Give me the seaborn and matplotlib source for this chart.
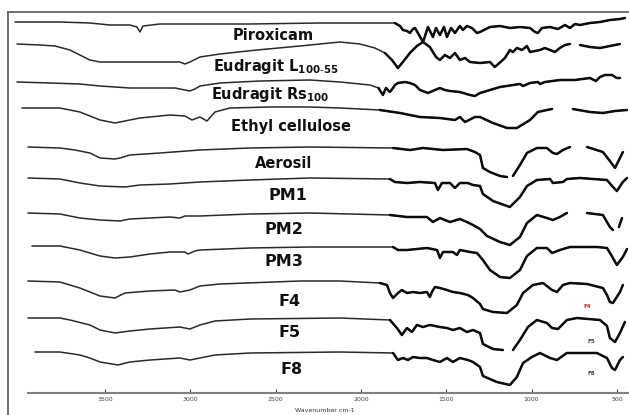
import numpy as np
import pandas as pd
import matplotlib
matplotlib.use('Agg')
import matplotlib.pyplot as plt
import seaborn as sns

sns.set_theme(style='white')
plt.rcParams['font.family'] = ['DejaVu Sans']

GAP = None

# traces: (wavenumber cm-1, vertical position of the stacked trace)
piroxicam = [(4027, 22), (3764, 22), (3588, 23), (3471, 25), (3354, 25), (3312, 27), (3295, 32), (3277, 26),
             (3178, 24), (2650, 24), (2240, 23), (1801, 23), (1771, 26), (1754, 30), (1730, 31), (1713, 33),
             (1695, 29), (1683, 28), (1666, 33), (1636, 42), (1613, 30), (1607, 27), (1578, 37), (1560, 28),
             (1537, 35), (1513, 27), (1496, 37), (1472, 28), (1449, 33), (1420, 26), (1402, 30), (1379, 26),
             (1349, 28), (1320, 33), (1302, 32), (1244, 27), (1185, 26), (1127, 28), (1068, 27), (1009, 28),
             (980, 32), (963, 33), (939, 28), (892, 27), (845, 29), (804, 25), (775, 28), (746, 24),
             (716, 25), (658, 23), (599, 22), (541, 20), (482, 19), (453, 18)]

eudragit_l = [(4015, 44), (3881, 45), (3793, 46), (3705, 50), (3647, 55), (3588, 60), (3529, 62), (3354, 62),
              (3119, 62), (3061, 62), (3031, 64), (3002, 62), (2943, 57), (2826, 54), (2609, 50), (2357, 46),
              (2240, 44), (2123, 42), (2006, 44), (1918, 48), (1859, 53), (1818, 60), (1783, 68), (1754, 62),
              (1713, 53), (1672, 46), (1636, 42), (1596, 47), (1560, 57), (1537, 60), (1508, 55), (1478, 58),
              (1449, 53), (1420, 60), (1390, 58), (1361, 62), (1302, 63), (1244, 62), (1215, 67), (1156, 58),
              (1127, 50), (1109, 52), (1086, 48), (1056, 50), (1027, 46), (1009, 52), (951, 50), (922, 48),
              (892, 50), (863, 52), (834, 48), (804, 45), (775, 44), GAP, (716, 45), (658, 47), (599, 48),
              (541, 46), (482, 44)]

eudragit_rs = [(4015, 82), (3822, 83), (3647, 84), (3529, 86), (3354, 88), (3090, 88), (3031, 90), (3002, 91),
               (2973, 89), (2943, 86), (2826, 83), (2592, 81), (2299, 80), (2123, 82), (1947, 85), (1897, 88),
               (1871, 95), (1853, 88), (1830, 92), (1812, 88), (1801, 85), (1783, 83), (1742, 82), (1713, 83),
               (1683, 85), (1654, 90), (1607, 93), (1566, 90), (1537, 88), (1508, 90), (1478, 91), (1420, 92),
               (1361, 95), (1332, 96), (1302, 93), (1185, 87), (1068, 84), (1050, 86), (1009, 83), (963, 82),
               (951, 84), (922, 82), (834, 80), (746, 80), (658, 78), (623, 81), (599, 77), (570, 75),
               (529, 75), (500, 78), (482, 78)]

ethyl_cellulose = [(3986, 108), (3764, 108), (3647, 112), (3529, 120), (3441, 123), (3383, 121), (3295, 118),
                   (3119, 115), (3031, 116), (2990, 120), (2943, 117), (2902, 121), (2855, 112), (2768, 108),
                   (2533, 107), (2299, 107), (2123, 108), (1889, 110), (1771, 113), (1654, 117), (1537, 118),
                   (1449, 120), (1420, 117), (1390, 122), (1332, 117), (1302, 117), (1226, 123), (1144, 128),
                   (1086, 128), (1009, 120), (963, 112), (910, 110), (880, 109), GAP, (758, 109), (658, 112),
                   (582, 113), (511, 111), (441, 110)]

aerosil = [(3951, 147), (3764, 148), (3676, 150), (3588, 153), (3529, 158), (3441, 159), (3412, 158), (3354, 155),
           (3178, 153), (2943, 150), (2650, 148), (2299, 147), (1812, 148), (1713, 150), (1636, 148), (1519, 150),
           (1379, 149), (1332, 152), (1302, 155), (1285, 168), (1244, 172), (1185, 176), (1144, 177), GAP,
           (1109, 176), (1068, 165), (1027, 153), (969, 148), (910, 148), (875, 153), (851, 154), (816, 150),
           (775, 147), GAP, (675, 147), (582, 152), (541, 161), (511, 168), (482, 158), (465, 152)]

pm1 = [(3951, 178), (3764, 179), (3647, 183), (3529, 186), (3383, 187), (3295, 185), (3119, 184), (2943, 182),
       (2650, 180), (2299, 178), (1830, 179), (1801, 182), (1730, 183), (1654, 182), (1566, 183), (1549, 190),
       (1525, 183), (1478, 183), (1449, 188), (1420, 183), (1373, 183), (1343, 185), (1302, 186), (1285, 194),
       (1226, 201), (1127, 207), (1068, 197), (1027, 186), (969, 180), (892, 179), (875, 183), (816, 182),
       (793, 179), (716, 178), (558, 180), (523, 187), (500, 191), (465, 182), (441, 178)]

pm2 = [(3951, 213), (3764, 214), (3647, 218), (3529, 220), (3412, 221), (3354, 219), (3119, 217), (3061, 218),
       (3031, 216), (2943, 216), (2650, 214), (2299, 213), (1830, 215), (1730, 217), (1613, 217), (1578, 222),
       (1537, 218), (1478, 222), (1420, 219), (1379, 222), (1343, 225), (1302, 229), (1261, 236), (1185, 242),
       (1127, 245), (1068, 237), (1027, 223), (969, 215), (910, 218), (875, 220), (834, 217), (793, 213), GAP,
       (675, 213), (582, 215), (541, 227), (523, 230), GAP, (488, 227), (470, 218)]

pm3 = [(3928, 246), (3764, 246), (3647, 250), (3529, 256), (3441, 258), (3354, 257), (3236, 254), (3119, 252),
       (3031, 252), (3014, 254), (2973, 251), (2943, 250), (2650, 248), (2299, 247), (1812, 247), (1783, 250),
       (1730, 250), (1613, 248), (1554, 250), (1537, 258), (1519, 252), (1461, 252), (1437, 255), (1420, 250),
       (1361, 252), (1320, 253), (1285, 260), (1244, 270), (1185, 277), (1127, 278), (1068, 270), (1027, 256),
       (969, 248), (910, 248), (880, 253), (834, 250), (775, 247), (617, 247), (558, 248), (523, 258),
       (500, 265), (465, 257), (441, 249)]

f4 = [(3951, 281), (3764, 282), (3705, 285), (3647, 288), (3529, 296), (3441, 298), (3383, 293), (3236, 291),
      (3090, 290), (3061, 292), (3002, 290), (2943, 286), (2826, 284), (2357, 281), (2123, 281), (1889, 283),
      (1847, 285), (1830, 293), (1812, 298), (1783, 293), (1760, 290), (1730, 293), (1695, 292), (1654, 293),
      (1613, 292), (1596, 297), (1584, 292), (1566, 287), (1537, 288), (1496, 290), (1461, 292), (1420, 293),
      (1373, 295), (1343, 298), (1302, 304), (1285, 309), (1226, 312), (1144, 313), (1086, 305), (1050, 293),
      (992, 285), (933, 283), (880, 290), (851, 292), (816, 285), (775, 283), (675, 284), (582, 288),
      (558, 295), (541, 302), (523, 303), (482, 292), (465, 285)]

f5 = [(3951, 318), (3764, 318), (3705, 320), (3588, 325), (3529, 330), (3441, 333), (3354, 331), (3236, 329),
      (3061, 327), (3002, 329), (2943, 325), (2855, 321), (2650, 319), (2123, 318), (1830, 320), (1789, 328),
      (1760, 335), (1730, 328), (1701, 332), (1672, 325), (1636, 327), (1596, 325), (1537, 327), (1496, 328),
      (1461, 330), (1420, 328), (1379, 332), (1343, 330), (1302, 333), (1285, 344), (1226, 349), (1168, 350), GAP,
      (1109, 350), (1068, 340), (1021, 327), (969, 320), (910, 323), (880, 328), (845, 329), (793, 320),
      (734, 318), (599, 320), (558, 326), (541, 338), (511, 342), (482, 333), (453, 322)]

f8 = [(3910, 352), (3764, 352), (3647, 355), (3588, 358), (3529, 362), (3424, 365), (3354, 362), (3236, 360),
      (3061, 358), (3002, 360), (2943, 358), (2855, 355), (2650, 353), (2123, 352), (1812, 353), (1783, 360),
      (1754, 358), (1724, 360), (1695, 357), (1654, 358), (1613, 358), (1578, 360), (1537, 362), (1496, 358),
      (1461, 362), (1420, 358), (1373, 360), (1343, 362), (1302, 367), (1285, 376), (1203, 382), (1127, 385),
      (1086, 377), (1050, 363), (998, 357), (951, 353), (892, 358), (851, 360), (793, 353), (734, 353),
      (617, 353), (558, 358), (529, 368), (511, 370), (482, 360), (465, 357)]

spectra = {'Piroxicam': piroxicam, 'Eudragit L100-55': eudragit_l, 'Eudragit RS100': eudragit_rs,
           'Ethyl cellulose': ethyl_cellulose, 'Aerosil': aerosil, 'PM1': pm1, 'PM2': pm2, 'PM3': pm3,
           'F4': f4, 'F5': f5, 'F8': f8}

xticks = [3500, 3000, 2500, 2000, 1500, 1000, 500]

rows = []
for name, pts in spectra.items():
    seg = 0
    for p in pts:
        if p is None:
            seg += 1
            continue
        rows.append({'sample': name, 'trace': f'{name}-{seg}', 'wn': p[0], 'y': p[1]})
df = pd.DataFrame(rows)
# the fingerprint part of the scan is printed heavier
heavy = df[df['wn'] <= 1900]

W, H = 629, 415
def rect(x0, y0, x1, y1):
    return [x0 / W, 1 - y1 / H, (x1 - x0) / W, (y1 - y0) / H]

fig = plt.figure(figsize=(W / 100, H / 100), dpi=100)

frame = fig.add_axes(rect(8, 12, 629, 415))
frame.set_facecolor('none')
frame.set_xticks([])
frame.set_yticks([])
for s in ['right', 'bottom']:
    frame.spines[s].set_visible(False)
for s in ['left', 'top']:
    frame.spines[s].set_color('#666666')
    frame.spines[s].set_linewidth(1.3)

ax = fig.add_axes(rect(8, 12, 629, 393))
ax.set_facecolor('none')
sns.lineplot(data=df, x='wn', y='y', units='trace', estimator=None, sort=False,
             color='#2a2a2a', lw=1.1, ax=ax, legend=False)
sns.lineplot(data=heavy, x='wn', y='y', units='trace', estimator=None, sort=False,
             color='#0d0d0d', lw=1.8, ax=ax, legend=False)
ax.set_xlim(4068, 429)
ax.set_ylim(393, 12)
ax.set_xlabel('')
ax.set_ylabel('')
ax.set_yticks([])
ax.set_xticks(xticks)
ax.set_xticklabels([str(t) for t in xticks])
for s in ['top', 'right', 'left']:
    ax.spines[s].set_visible(False)
ax.spines['bottom'].set_color('#808080')
ax.spines['bottom'].set_linewidth(1.5)
ax.spines['bottom'].set_bounds(3951, 429)
ax.tick_params(axis='x', bottom=True, direction='in', length=3, width=0.8,
               colors='#444444', labelsize=4.5, pad=3)

def label(x, y, s, size, ha='left', color='#111111', weight='bold'):
    fig.text(x / W, 1 - y / H, s, ha=ha, va='center', fontsize=size,
             fontweight=weight, color=color)

label(273, 35, 'Piroxicam', 10.5, ha='center')
label(213, 66, r'Eudragit L$_{\mathbf{100\text{-}55}}$', 10.5)
label(211, 94, r'Eudragit Rs$_{\mathbf{100}}$', 10.5)
label(231, 127, 'Ethyl cellulose', 10.5)
label(255, 163, 'Aerosil', 10.5)
label(268, 196, 'PM1', 11.5)
label(265, 229, 'PM2', 11.5)
label(265, 262, 'PM3', 11.5)
label(278, 301, 'F4', 11.5)
label(278, 332, 'F5', 11.5)
label(280, 369, 'F8', 11.5)
label(583, 306, 'F4', 4, color='#b03030')
label(587, 341, 'F5', 4, color='#444444')
label(587, 373, 'F8', 4, color='#444444')
label(325, 410, 'Wavenumber cm-1', 4.5, ha='center', color='#333333', weight='normal')

fig.savefig('out.png', dpi=100)
